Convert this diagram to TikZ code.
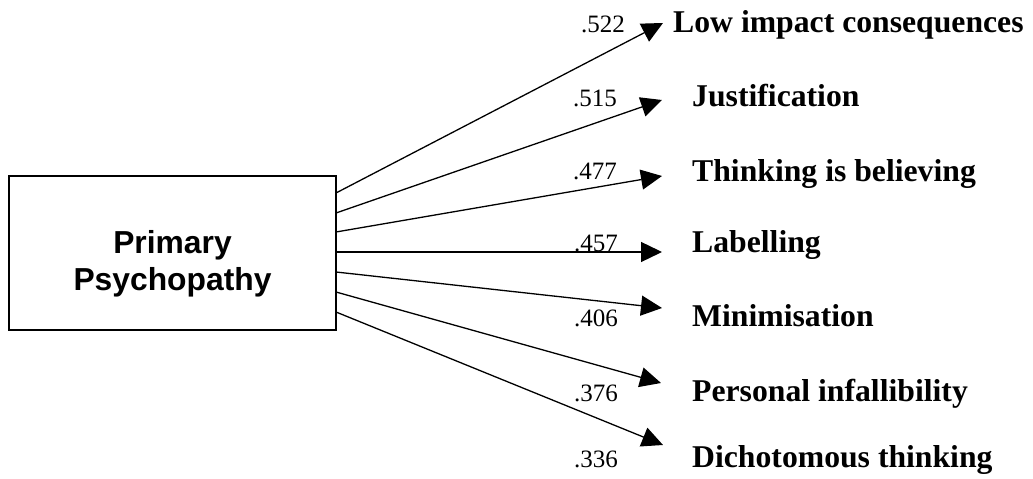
\documentclass[tikz,border=0pt]{standalone}
\usepackage{fontspec}
\setmainfont{Liberation Serif}
\newfontfamily\boxfont{Liberation Sans}
\usetikzlibrary{arrows.meta}
\tikzset{
  loadarrow/.style={-{Triangle[length=21pt,width=20pt]}, line width=1.3pt},
  weight/.style={anchor=base east, inner sep=0pt, font=\fontsize{25}{30}\selectfont},
  factor/.style={anchor=base west, inner sep=0pt, font=\bfseries\fontsize{31.7}{37}\selectfont},
}
\begin{document}
\begin{tikzpicture}[x=1pt,y=1pt]
    \useasboundingbox (0,0) rectangle (1033,479);

    \node[draw, line width=1.5pt, minimum width=327pt, minimum height=154pt, inner sep=0pt] (pp) at (172.5,226) {};
    \node[align=center, font=\boxfont\bfseries\fontsize{31.8}{37}\selectfont] (pptext) at ([yshift=-11pt]pp.center) {Primary\\Psychopathy};

    \coordinate (s1) at (336, 286);
    \coordinate (s2) at (336, 266);
    \coordinate (s3) at (336, 247);
    \coordinate (s4) at (336, 227);
    \coordinate (s5) at (336, 207);
    \coordinate (s6) at (336, 187);
    \coordinate (s7) at (336, 167);

    \coordinate (t1) at (663, 456);
    \coordinate (t2) at (662, 379);
    \coordinate (t3) at (662, 303);
    \coordinate (t4) at (662, 227);
    \coordinate (t5) at (662, 171);
    \coordinate (t6) at (661, 96);
    \coordinate (t7) at (663, 34);

    \draw[loadarrow] (s1) -- (t1);
    \draw[loadarrow] (s2) -- (t2);
    \draw[loadarrow] (s3) -- (t3);
    \draw[loadarrow] (s4) -- (t4);
    \draw[loadarrow] (s5) -- (t5);
    \draw[loadarrow] (s6) -- (t6);
    \draw[loadarrow] (s7) -- (t7);

    \node[weight] (w1) at (625, 446) {.522};
    \node[weight] (w2) at (617, 372) {.515};
    \node[weight] (w3) at (617, 299) {.477};
    \node[weight] (w4) at (618, 227) {.457};
    \node[weight] (w5) at (618, 152) {.406};
    \node[weight] (w6) at (618, 77) {.376};
    \node[weight] (w7) at (618, 11) {.336};

    \node[factor] (f1) at (673, 446) {Low impact consequences};
    \node[factor] (f2) at (692, 372) {Justification};
    \node[factor] (f3) at (692, 297) {Thinking is believing};
    \node[factor] (f4) at (692, 226) {Labelling};
    \node[factor] (f5) at (692, 152) {Minimisation};
    \node[factor] (f6) at (692, 77) {Personal infallibility};
    \node[factor] (f7) at (692, 11) {Dichotomous thinking};
\end{tikzpicture}
\end{document}
